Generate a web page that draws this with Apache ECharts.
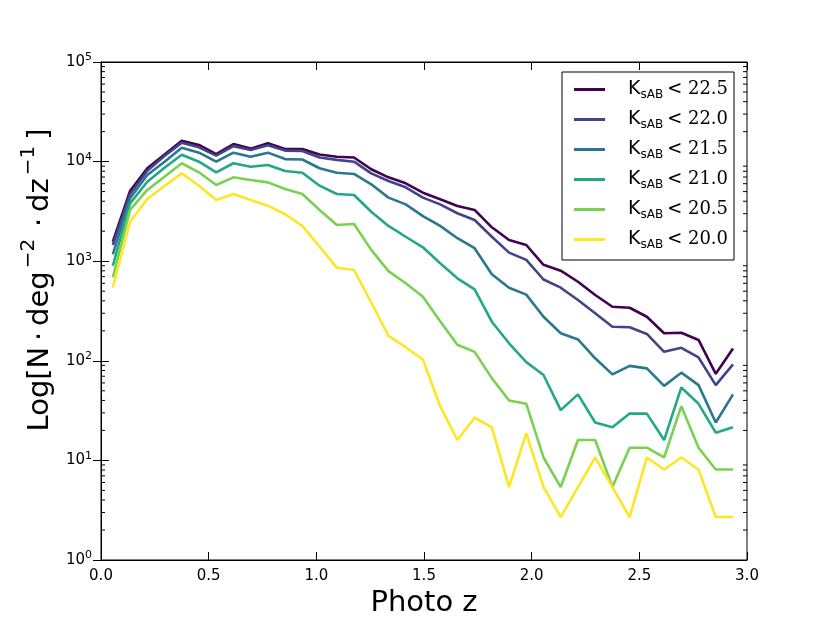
<!DOCTYPE html>
<html>
<head>
<meta charset="utf-8">
<script src="https://cdn.jsdelivr.net/npm/echarts@6/dist/echarts.min.js"></script>
<style>html,body{margin:0;padding:0;background:#fff;}#c{width:830px;height:623px;}</style>
</head>
<body>
<div id="c"></div>
<script>
const zValues = [0.055,0.135,0.215,0.295,0.375,0.455,0.535,0.615,0.695,0.775,0.855,0.935,
  1.015,1.095,1.175,1.255,1.335,1.415,1.495,1.575,1.655,1.735,1.815,1.895,1.975,
  2.055,2.135,2.215,2.295,2.375,2.455,2.535,2.615,2.695,2.775,2.855,2.935];

const seriesNames = ['22.5','22.0','21.5','21.0','20.5','20.0'];

const k225 = [1570,5070,8570,11800,16200,14700,11900,15000,13500,15300,13400,13400,11800,11200,11000,8370,6950,6050,4870,4180,3580,3270,2190,1630,1455,920,803,622,458,349,341,277,189,191,162,74,133];
const k220 = [1455,4730,8110,11400,15500,13900,11500,14300,13100,14600,12900,12800,11000,10400,9980,7620,6380,5520,4350,3720,3030,2590,1760,1220,1030,655,542,408,300,220,217,186,123,135,108,57,92];
const k215 = [1170,4280,7330,9980,13800,12300,9980,12300,11200,12300,10600,10500,8570,7740,7510,5920,4350,3720,2840,2260,1700,1350,740,542,462,277,189,164,106,73,89,84,56,76,57,24,46];
const k210 = [900,3810,6280,8690,11700,9980,7810,9620,8890,9250,8050,7740,5730,4730,4620,3140,2260,1760,1380,953,673,522,247,150,97,72,32,46,24,21.5,29.5,29.5,16,54,37,19,21.5];
const k205 = [689,3270,5190,7060,9620,7810,5820,6950,6530,6190,5310,4730,3270,2310,2360,1300,795,600,440,250,145,123,67,40,37,10.7,5.4,16,16,5.4,13.4,13.4,10.7,35,13.4,8.1,8.1];
const k200 = [542,2490,4210,5690,7620,5730,4110,4730,4110,3610,2960,2260,1400,861,816,385,178,137,103,35,16,26.8,21.5,5.4,18.8,5.4,2.7,5.4,10.7,5.4,2.7,10.7,8.1,10.7,8.1,2.7,2.7];

const xTicks = [0.0,0.5,1.0,1.5,2.0,2.5,3.0];
const minorYTicks = [2,3,4,5,6,7,8,9,20,30,40,50,60,70,80,90,200,300,400,500,600,700,800,900,
  2000,3000,4000,5000,6000,7000,8000,9000,20000,30000,40000,50000,60000,70000,80000,90000];

const colors = ['#440154','#414487','#2a788e','#22a884','#7ad151','#fde725'];
const allData = [k225,k220,k215,k210,k205,k200];

const chart = echarts.init(document.getElementById('c'), null, {renderer:'canvas'});

const lineSeries = allData.map((arr, i) => ({
  name: seriesNames[i],
  type: 'line',
  xAxisIndex: 0, yAxisIndex: 0,
  data: zValues.map((z, j) => [z, arr[j]]),
  symbol: 'none',
  lineStyle: {color: colors[i], width: 2.6},
  itemStyle: {color: colors[i]},
  z: 3 + i
}));

const minorSeries = {
  name: 'minor',
  type: 'custom',
  xAxisIndex: 0, yAxisIndex: 0,
  silent: true,
  data: minorYTicks.map(v => [0, v]),
  renderItem: function(params, api) {
    const p = api.coord([0, api.value(1)]);
    const cs = params.coordSys;
    return {type: 'group', children: [
      {type: 'line', shape: {x1: cs.x, y1: p[1], x2: cs.x + 4, y2: p[1]}, style: {stroke: '#000', lineWidth: 1}},
      {type: 'line', shape: {x1: cs.x + cs.width, y1: p[1], x2: cs.x + cs.width - 4, y2: p[1]}, style: {stroke: '#000', lineWidth: 1}}
    ]};
  },
  z: 10
};

const supFmt = function(v) {
  const e = Math.round(Math.log10(v));
  return '{b|10}{e|' + e + '}';
};

const option = {
  animation: false,
  backgroundColor: '#fff',
  grid: {left: 101, right: 83, top: 62, bottom: 63, show: true, borderColor: '#000', borderWidth: 1,
    backgroundColor: 'transparent', containLabel: false, outerBoundsMode: 'none'},
  legend: {
    data: seriesNames,
    orient: 'vertical',
    left: 562, top: 72,
    padding: [8, 6, 9, 12],
    itemGap: 9,
    itemWidth: 31, itemHeight: 3,
    icon: 'rect',
    borderColor: '#000', borderWidth: 1, borderRadius: 0,
    backgroundColor: '#fff',
    formatter: function(name) { return '{k|K}{s|sAB}{t|< ' + name + '}'; },
    textStyle: {
      padding: [0, 0, 0, 18],
      rich: {
        k: {fontFamily: 'DejaVu Sans', fontSize: 19, color: '#000', lineHeight: 23},
        s: {fontFamily: 'DejaVu Sans', fontSize: 12, color: '#000', verticalAlign: 'bottom', lineHeight: 23, padding: [0, 4, 0, 0]},
        t: {fontFamily: 'DejaVu Serif', fontSize: 18, color: '#000', lineHeight: 23}
      }
    }
  },
  xAxis: [{
    type: 'value', min: 0, max: 3.0, interval: 0.5,
    position: 'bottom',
    name: 'Photo z', nameLocation: 'middle', nameGap: 27,
    nameTextStyle: {fontFamily: 'DejaVu Sans', fontSize: 29, color: '#000', verticalAlign: 'top'},
    axisLine: {show: true, lineStyle: {color: '#000', width: 1}},
    axisTick: {show: true, inside: true, length: 8, lineStyle: {color: '#000'}},
    axisLabel: {show: true, margin: 9, fontFamily: 'DejaVu Sans', fontSize: 15, color: '#000',
      formatter: v => v.toFixed(1)},
    splitLine: {show: false}
  }, {
    type: 'value', min: 0, max: 3.0, interval: 0.5,
    position: 'top',
    axisLine: {show: true, lineStyle: {color: '#000', width: 1}},
    axisTick: {show: true, inside: true, length: 8, lineStyle: {color: '#000'}},
    axisLabel: {show: false},
    splitLine: {show: false}
  }],
  yAxis: [{
    type: 'log', logBase: 10, min: 1, max: 100000,
    position: 'left',
    name: '{a|Log[N\u2009·\u2009deg}{e|−2}{a|\u2009·\u2009dz}{e|−1}{a|]}',
    nameLocation: 'middle', nameGap: 43, nameRotate: 90,
    nameTextStyle: {
      padding: [0, 0, 0, 62],
      rich: {
        a: {fontFamily: 'DejaVu Sans', fontSize: 29, color: '#000', lineHeight: 36, verticalAlign: 'bottom'},
        e: {fontFamily: 'DejaVu Sans', fontSize: 20, color: '#000', verticalAlign: 'top', lineHeight: 36, padding: [0, 6, 0, 3]}
      }
    },
    axisLine: {show: true, lineStyle: {color: '#000', width: 1}},
    axisTick: {show: true, inside: true, length: 8, lineStyle: {color: '#000'}},
    axisLabel: {show: true, margin: 9, formatter: supFmt,
      rich: {
        b: {fontFamily: 'DejaVu Sans', fontSize: 15, color: '#000', lineHeight: 20},
        e: {fontFamily: 'DejaVu Sans', fontSize: 11, color: '#000', verticalAlign: 'top', lineHeight: 20}
      }
    },
    splitLine: {show: false}
  }, {
    type: 'log', logBase: 10, min: 1, max: 100000,
    position: 'right',
    axisLine: {show: true, lineStyle: {color: '#000', width: 1}},
    axisTick: {show: true, inside: true, length: 8, lineStyle: {color: '#000'}},
    axisLabel: {show: false},
    splitLine: {show: false}
  }],
  series: lineSeries.concat([minorSeries])
};

chart.setOption(option);
</script>
</body>
</html>
